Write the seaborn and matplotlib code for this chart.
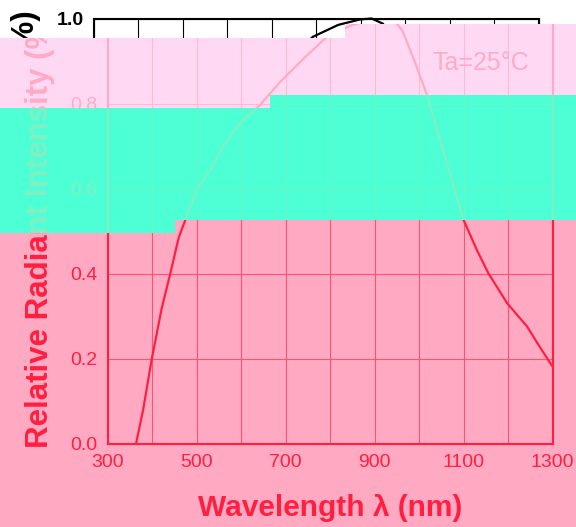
import matplotlib
matplotlib.use("Agg")
import matplotlib.pyplot as plt
import seaborn as sns
from matplotlib.patches import Rectangle
from matplotlib.transforms import Bbox, TransformedBbox

# ---------------- data ----------------
wavelength = [364, 380, 399, 422, 441, 460, 478, 500, 531, 560, 598, 643, 688,
              740, 793, 850, 900, 925, 950, 962, 990, 1018, 1060, 1100, 1130,
              1156, 1198, 1243, 1266, 1300]
intensity = [0.0, 0.08, 0.197, 0.32, 0.40, 0.485, 0.535, 0.597, 0.643, 0.70, 0.754,
             0.797, 0.851, 0.905, 0.957, 0.985, 0.998, 1.0, 0.988, 0.973, 0.90,
             0.82, 0.67, 0.527, 0.456, 0.401, 0.331, 0.276, 0.237, 0.182]
x_ticks = [300, 500, 700, 900, 1100, 1300]
x_grid = [400, 600, 800, 1000, 1200]
y_ticks = [0.0, 0.2, 0.4, 0.6, 0.8, 1.0]
y_tick_labels = ["0.0", "0.2", "0.4", "0.6", "0.8", "1.0"]
x_label = "Wavelength λ (nm)"
y_label = "Relative Radiant Intensity (%)"
note = "Ta=25°C"

sns.set_theme(style="white")
plt.rcParams['font.family'] = ['Liberation Sans', 'DejaVu Sans']

W, H = 576, 527
fig = plt.figure(figsize=(W / 100, H / 100), dpi=100)
fig.patch.set_facecolor('white')

# colour bands: rectangles (x0, y0, x1, y1) in image pixels, top-left origin
bands = [
    dict(rects=[(0, 0, 345, 38), (345, 0, 576, 24)],
         bg='#FFFFFF', ink='#000000', grid='#000000', shift=-14, bold_ticks=True),
    dict(rects=[(0, 38, 270, 108), (270, 38, 345, 95), (345, 24, 576, 95)],
         bg='#FFD9F3', ink='#FFAAC6', grid='#FFB9D2', shift=0, bold_ticks=False),
    dict(rects=[(0, 108, 175, 233), (175, 108, 270, 220), (270, 95, 576, 220)],
         bg='#4DFFD4', ink='#7FF0C4', grid='#66F7CC', shift=0, bold_ticks=False),
    dict(rects=[(0, 233, 175, 527), (175, 220, 576, 527)],
         bg='#FFAAC2', ink='#FF1F40', grid='#FF5272', shift=0, bold_ticks=False),
]

left_px, right_px, top_px, bottom_px = 107.5, 552.5, 18.5, 444.0


def frac_box(r):
    x0, y0, x1, y1 = r
    return Bbox.from_extents(x0 / W, (H - y1) / H, x1 / W, (H - y0) / H)


def draw_chart(ax, ink, grid, bold_ticks):
    ax.set_facecolor('none')
    sns.lineplot(x=wavelength, y=intensity, ax=ax, color=ink, lw=1.6,
                 estimator=None, sort=False)
    ax.set_xlim(300, 1300)
    ax.set_ylim(0, 1)
    ax.set_xticks(x_ticks)
    ax.set_xticks(x_grid, minor=True)
    ax.set_yticks(y_ticks)
    ax.set_yticklabels(y_tick_labels)
    ax.grid(which='both', axis='x', color=grid, lw=0.8)
    ax.grid(which='major', axis='y', color=grid, lw=0.8)
    ax.set_axisbelow(True)
    ax.tick_params(which='both', length=0, labelsize=14, labelcolor=ink)
    ax.tick_params(axis='y', pad=7)
    ax.tick_params(axis='x', pad=7)
    if bold_ticks:
        for t in ax.get_xticklabels() + ax.get_yticklabels():
            t.set_fontweight('bold')
    for s in ax.spines.values():
        s.set_visible(True)
        s.set_color(ink)
        s.set_linewidth(1.5)
    ax.set_xlabel(x_label, fontsize=21.5, fontweight='bold', color=ink)
    ax.set_ylabel(y_label, fontsize=22.5, fontweight='bold', color=ink)
    ax.xaxis.set_label_coords(0.5, -0.117)
    ax.yaxis.set_label_coords(-0.117, 0.504)
    ax.text(1031, 0.88, note, fontsize=18, color=ink, ha='left', va='baseline')


axes = []
for b in bands:
    for r in b['rects']:
        x0, y0, x1, y1 = r
        fig.add_artist(Rectangle((x0 / W, (H - y1) / H), (x1 - x0) / W, (y1 - y0) / H,
                                 transform=fig.transFigure, facecolor=b['bg'],
                                 edgecolor='none', zorder=-5))
        l = (left_px + b['shift']) / W
        bt = (H - bottom_px) / H
        ax = fig.add_axes([l, bt, (right_px - left_px) / W, (bottom_px - top_px) / H])
        draw_chart(ax, b['ink'], b['grid'], b['bold_ticks'])
        axes.append((ax, TransformedBbox(frac_box(r), fig.transFigure)))

fig.canvas.draw()
for ax, box in axes:
    for a in ax.findobj():
        if a is ax:
            continue
        a.set_clip_on(True)
        a.set_clip_box(box)
        a.set_clip_path(None)

fig.savefig('out.png', dpi=100)
